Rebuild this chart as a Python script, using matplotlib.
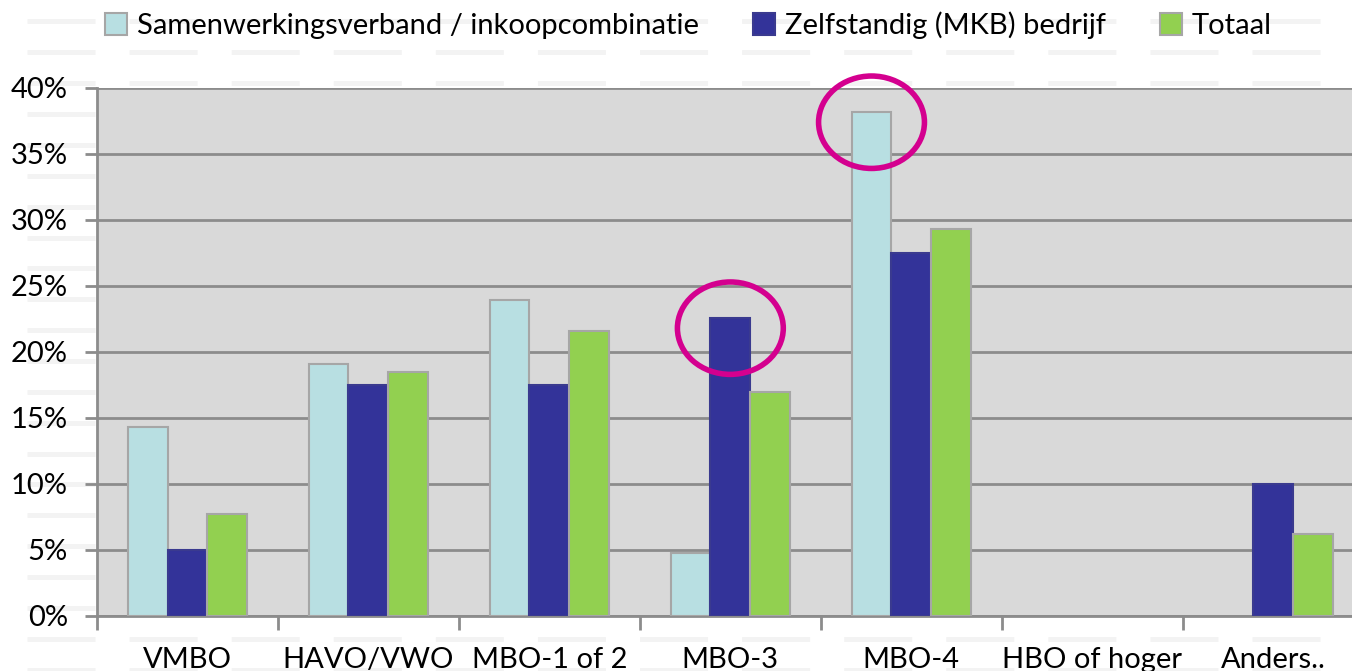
import matplotlib.pyplot as plt
import numpy as np
from matplotlib.lines import Line2D
from matplotlib.patches import Ellipse
from matplotlib.ticker import FuncFormatter, FixedLocator

categories = ["VMBO", "HAVO/VWO", "MBO-1 of 2", "MBO-3", "MBO-4", "HBO of hoger", "Anders.."]
series_names = ["Samenwerkingsverband / inkoopcombinatie", "Zelfstandig (MKB) bedrijf", "Totaal"]
samenwerking = [14.3, 19.1, 23.9, 4.8, 38.2, 0.0, 0.0]
zelfstandig = [5.0, 17.5, 17.5, 22.6, 27.5, 0.0, 10.0]
totaal = [7.7, 18.5, 21.6, 17.0, 29.3, 0.0, 6.2]
yticks = [0, 5, 10, 15, 20, 25, 30, 35, 40]

colors = ["#B8DFE2", "#333399", "#92D050"]
edges = ["#A6A6A6", "#3A3A8F", "#A6A6A6"]
grid_col = "#8C8C8C"

plt.rcParams["font.family"] = ["Lato", "DejaVu Sans"]

fig = plt.figure(figsize=(13.52, 6.71), dpi=100)

# faint dashed background pattern
for yy in np.arange(0.968, 0.0, -0.046):
    fig.add_artist(Line2D([0.02, 1.0], [yy, yy], transform=fig.transFigure,
                          color="#F3F3F3", lw=3.5, dashes=(14, 7), zorder=-10))

ax = fig.add_axes([0.0717, 0.082, 0.937, 0.787])
ax.set_facecolor("#D9D9D9")

x = np.arange(len(categories))
w = 0.22
data = [samenwerking, zelfstandig, totaal]
bars = []
for k, vals in enumerate(data):
    b = ax.bar(x + (k - 1) * w, vals, width=w, color=colors[k],
               edgecolor=edges[k], linewidth=1.5, label=series_names[k], zorder=3)
    for rect, v in zip(b, vals):
        if v == 0:
            rect.set_visible(False)
    bars.append(b)

ax.set_xlim(-0.5, len(categories) - 0.5)
ax.set_ylim(0, 40)
ax.yaxis.set_major_locator(FixedLocator(yticks))
ax.yaxis.set_major_formatter(FuncFormatter(lambda v, p: f"{int(v)}%"))
ax.grid(axis="y", color=grid_col, lw=2, zorder=1)
ax.set_axisbelow(True)

ax.set_xticks(x)
ax.set_xticklabels(categories, fontsize=21)
ax.tick_params(axis="x", length=0, pad=22)
ax.set_xticks(np.arange(-0.5, len(categories) + 0.5, 1), minor=True)
ax.tick_params(axis="x", which="minor", length=10, width=2, color=grid_col)
ax.tick_params(axis="y", length=9, width=2, color=grid_col, labelsize=21, pad=12)

for side in ["top", "right"]:
    ax.spines[side].set_visible(False)
for side in ["left", "bottom"]:
    ax.spines[side].set_color(grid_col)
    ax.spines[side].set_linewidth(2)

# highlight circles around the noted bars
for k, i in [(0, 4), (1, 3)]:
    cx = x[i] + (k - 1) * w
    cy = data[k][i] - 0.8
    ax.add_patch(Ellipse((cx, cy), 0.585, 7.0, fill=False, edgecolor="#D4008F",
                         lw=4, zorder=5, clip_on=False))

fig.legend(handles=bars, labels=series_names, loc="center left",
           bbox_to_anchor=(0.069, 0.962), ncol=3, frameon=False, fontsize=21,
           handlelength=0.75, handleheight=0.75, handletextpad=0.35,
           columnspacing=1.85, borderaxespad=0)

fig.savefig("out.png", dpi=100)
